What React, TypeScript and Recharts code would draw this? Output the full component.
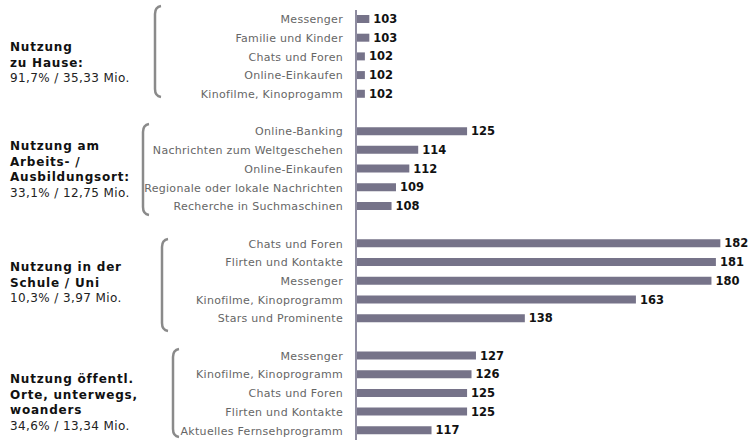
import { BarChart, Bar, XAxis, YAxis, LabelList, Customized } from 'recharts';

// Internetnutzung nach Ort – Index-Werte
const homeLabels = ['Messenger', 'Familie und Kinder', 'Chats und Foren', 'Online-Einkaufen', 'Kinofilme, Kinoprogamm'];
const homeValues = [103, 103, 102, 102, 102];

const workLabels = ['Online-Banking', 'Nachrichten zum Weltgeschehen', 'Online-Einkaufen', 'Regionale oder lokale Nachrichten', 'Recherche in Suchmaschinen'];
const workValues = [125, 114, 112, 109, 108];

const schoolLabels = ['Chats und Foren', 'Flirten und Kontakte', 'Messenger', 'Kinofilme, Kinoprogramm', 'Stars und Prominente'];
const schoolValues = [182, 181, 180, 163, 138];

const publicLabels = ['Messenger', 'Kinofilme, Kinoprogramm', 'Chats und Foren', 'Flirten und Kontakte', 'Aktuelles Fernsehprogramm'];
const publicValues = [127, 126, 125, 125, 117];

const groupTitles = [
  ['Nutzung', 'zu Hause:'],
  ['Nutzung am', 'Arbeits- /', 'Ausbildungsort:'],
  ['Nutzung in der', 'Schule / Uni'],
  ['Nutzung öffentl.', 'Orte, unterwegs,', 'woanders'],
];
const groupShares = ['91,7% / 35,33 Mio.', '33,1% / 12,75 Mio.', '10,3% / 3,97 Mio.', '34,6% / 13,34 Mio.'];

const groups = [
  { key: 'home', labels: homeLabels, values: homeValues },
  { key: 'work', labels: workLabels, values: workValues },
  { key: 'school', labels: schoolLabels, values: schoolValues },
  { key: 'public', labels: publicLabels, values: publicValues },
];

type Row = { id: string; label: string; value?: number };
const rows: Row[] = [];
groups.forEach((g, gi) => {
  g.labels.forEach((label, i) => rows.push({ id: `${g.key}-${i}`, label, value: g.values[i] }));
  if (gi < groups.length - 1) rows.push({ id: `gap-${gi}`, label: '' });
});
const labelById: Record<string, string> = Object.fromEntries(rows.map((r) => [r.id, r.label]));

const FONT = '"DejaVu Sans", Verdana, sans-serif';
const BAR = '#767389';
const AXIS = '#8f8da1';

// layout of the left-hand annotations
const bracketX = [155, 143, 162, 173];
const bracketY = [[6, 97], [124, 215], [239, 331], [349, 437]];
const captionY = [51, 150, 271, 383];

function Annotations() {
  return (
    <g>
      {bracketX.map((x, i) => {
        const [y0, y1] = bracketY[i];
        const d = `M ${x + 6} ${y0} Q ${x} ${y0 + 1} ${x} ${y0 + 8} L ${x} ${y1 - 8} Q ${x} ${y1 - 1} ${x + 6} ${y1}`;
        return <path key={`b${i}`} d={d} fill="none" stroke="#8a8a8a" strokeWidth={2.5} />;
      })}
      {groupTitles.map((lines, i) => (
        <text key={`t${i}`} x={10} y={captionY[i]} fontFamily={FONT} fontSize={12} fill="#111">
          {lines.map((line, j) => (
            <tspan key={j} x={10} dy={j === 0 ? 0 : 15.5} fontWeight="bold" letterSpacing={0.8}>
              {line}
            </tspan>
          ))}
          <tspan x={10} dy={15.5} letterSpacing={0.4} fill="#222">
            {groupShares[i]}
          </tspan>
        </text>
      ))}
    </g>
  );
}

export default function App() {
  return (
    <div style={{ position: 'absolute', left: 0, top: 0, background: '#fff' }}>
      <BarChart
        width={750}
        height={440}
        data={rows}
        layout="vertical"
        margin={{ top: 10, right: 3, bottom: 0, left: 0 }}
        barCategoryGap={0}
      >
        <XAxis type="number" domain={[100, 188]} hide allowDataOverflow />
        <YAxis
          type="category"
          dataKey="id"
          width={356}
          interval={0}
          tickLine={false}
          axisLine={{ stroke: AXIS, strokeWidth: 2 }}
          tickFormatter={(id: string) => labelById[id]}
          tick={{ fontFamily: FONT, fontSize: 11, fill: '#666', letterSpacing: 0.3 }}
          tickMargin={7}
        />
        <Bar dataKey="value" fill={BAR} barSize={8} isAnimationActive={false}>
          <LabelList
            dataKey="value"
            position="right"
            offset={4}
            style={{ fontFamily: FONT, fontSize: 11.5, fontWeight: 'bold', fill: '#111' }}
          />
        </Bar>
        <Customized component={Annotations} />
      </BarChart>
    </div>
  );
}
